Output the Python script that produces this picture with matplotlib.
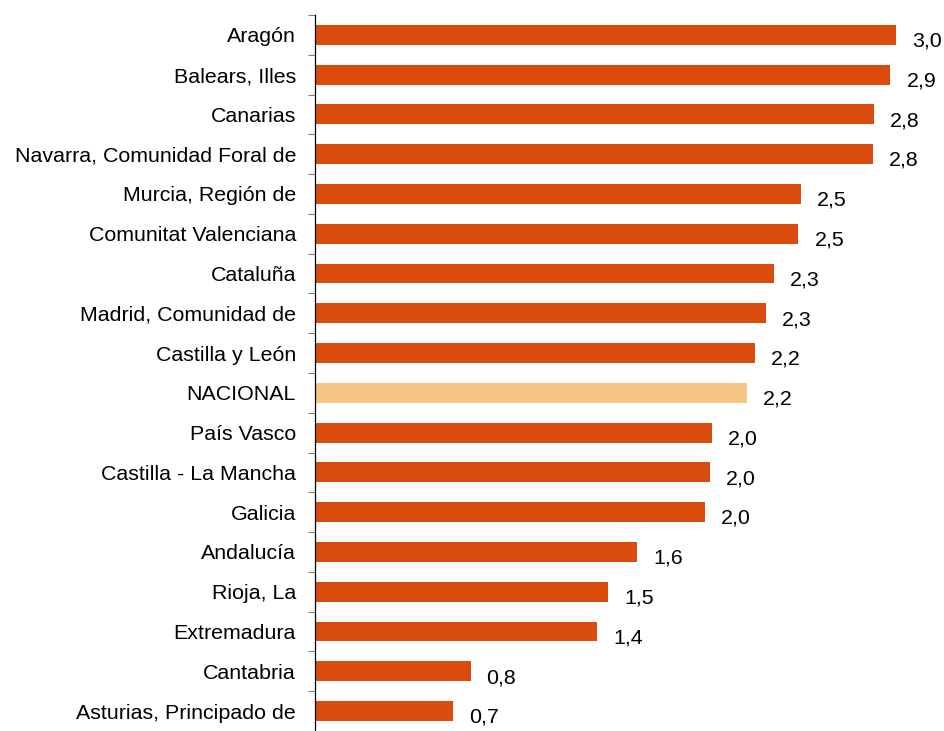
import numpy as np
import matplotlib
matplotlib.use("Agg")
import matplotlib.pyplot as plt

# =====================================
# DATA
# =====================================

regions = [
    "Aragón", "Balears, Illes", "Canarias", "Navarra, Comunidad Foral de",
    "Murcia, Región de", "Comunitat Valenciana", "Cataluña",
    "Madrid, Comunidad de", "Castilla y León", "NACIONAL", "País Vasco",
    "Castilla - La Mancha", "Galicia", "Andalucía", "Rioja, La",
    "Extremadura", "Cantabria", "Asturias, Principado de",
]
values = [2.956, 2.928, 2.845, 2.837, 2.475, 2.460, 2.335, 2.294, 2.241,
          2.199, 2.021, 2.011, 1.983, 1.640, 1.492, 1.436, 0.793, 0.704]
labels = ["3,0", "2,9", "2,8", "2,8", "2,5", "2,5", "2,3", "2,3", "2,2",
          "2,2", "2,0", "2,0", "2,0", "1,6", "1,5", "1,4", "0,8", "0,7"]

# =====================================
# CHART
# =====================================

plt.rcParams['font.family'] = ['Liberation Sans', 'DejaVu Sans']

fig = plt.figure(figsize=(9.44, 7.31), dpi=100)
ax = fig.add_axes([0.3332, 0.0, 0.6668, 0.9795])

y = np.arange(len(regions))
colors = ["#F4C583" if r == "NACIONAL" else "#D94C0E" for r in regions]
ax.barh(y, values, height=0.5, color=colors)

# value labels to the right of each bar
for yi, v, lab in zip(y, values, labels):
    ax.annotate(lab, (v, yi), xytext=(11.5, -4.5), textcoords="offset points",
                ha="left", va="center", fontsize=15.4)

ax.set_xlim(0, 3.2)
ax.set_ylim(17.4, -0.5)

ax.set_yticks(y)
ax.set_yticklabels(regions, fontsize=15.4)
ax.tick_params(axis="y", which="major", length=0, pad=13.3)
ax.set_yticks(np.arange(-0.5, len(regions), 1), minor=True)
ax.tick_params(axis="y", which="minor", length=5, width=0.8, color="#808080")
ax.set_xticks([])

for side in ["top", "right", "bottom"]:
    ax.spines[side].set_visible(False)
ax.spines["left"].set_color("black")
ax.spines["left"].set_linewidth(0.9)

plt.savefig("out.png", dpi=100)
